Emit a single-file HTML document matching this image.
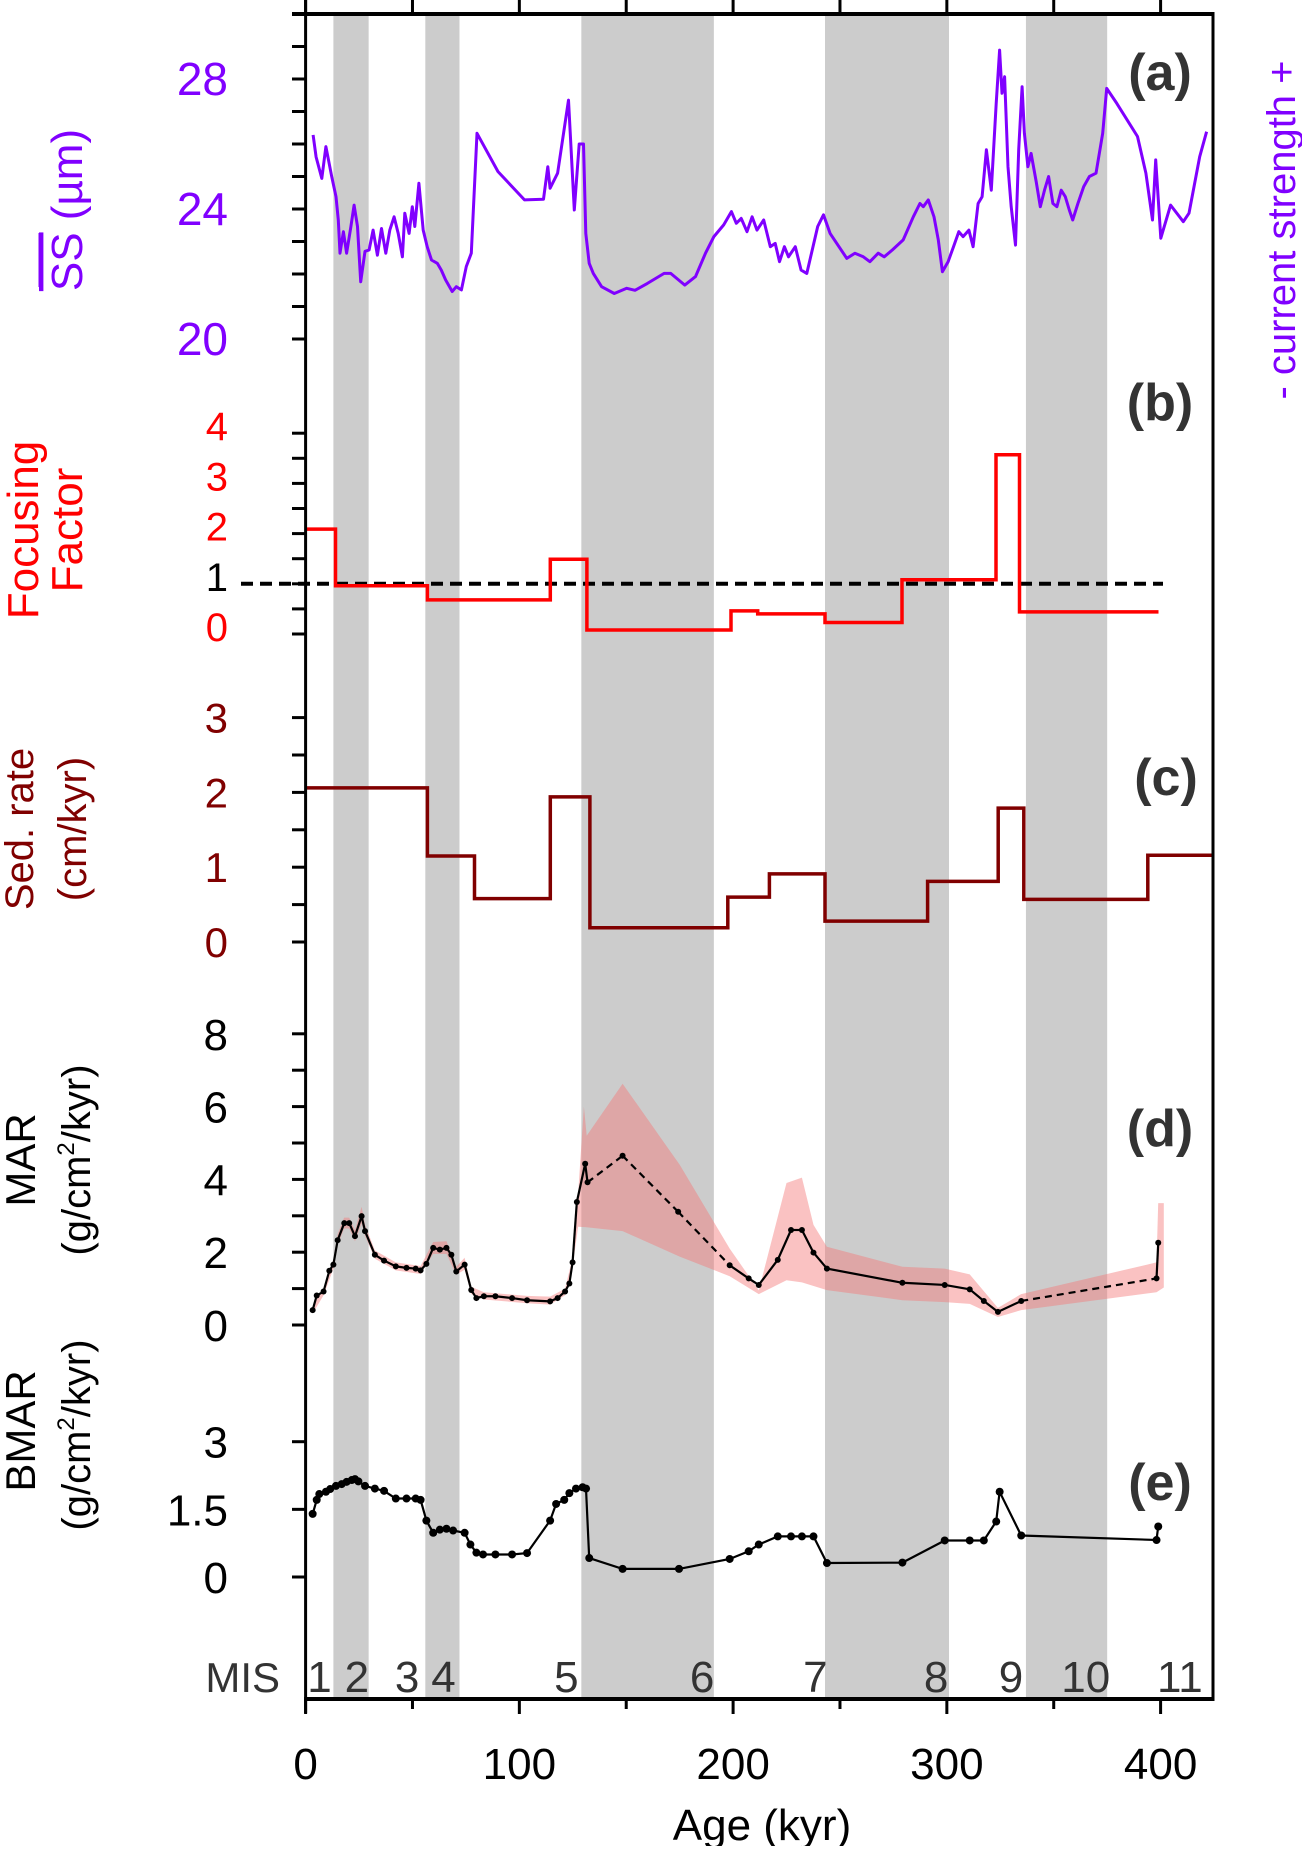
<!DOCTYPE html>
<html><head><meta charset="utf-8"><style>
html,body{margin:0;padding:0;background:#fff;}
svg text{font-family:"Liberation Sans",Arial,sans-serif;}
</style></head><body>
<svg id="chart" width="1302" height="1846" viewBox="0 0 1302 1846" xmlns="http://www.w3.org/2000/svg">
<g id="bands"></g>
<g id="plots"></g>
<g id="axes"></g>
<g id="labels">
  <text transform="translate(82,210) rotate(-90)" text-anchor="middle" font-size="44" fill="#8000ff"><tspan text-decoration="overline">SS</tspan> (µm)</text>
  <line x1="40" y1="233" x2="40" y2="287" stroke="#8000ff" stroke-width="3"/>
  <text transform="translate(1295,230) rotate(-90)" text-anchor="middle" font-size="40" fill="#8000ff">- current strength +</text>
  <text transform="translate(38,530) rotate(-90)" text-anchor="middle" font-size="44" fill="#ff0000">Focusing</text>
  <text transform="translate(82,530) rotate(-90)" text-anchor="middle" font-size="44" fill="#ff0000">Factor</text>
  <text transform="translate(33,829) rotate(-90)" text-anchor="middle" font-size="40" fill="#800000">Sed. rate</text>
  <text transform="translate(86,829) rotate(-90)" text-anchor="middle" font-size="40" fill="#800000">(cm/kyr)</text>
  <text transform="translate(35,1160) rotate(-90)" text-anchor="middle" font-size="42" fill="#000">MAR</text>
  <text transform="translate(90,1160) rotate(-90)" text-anchor="middle" font-size="40" fill="#000">(g/cm<tspan font-size="24" dy="-16">2</tspan><tspan dy="16">/kyr)</tspan></text>
  <text transform="translate(35,1431) rotate(-90)" text-anchor="middle" font-size="42" fill="#000">BMAR</text>
  <text transform="translate(90,1435) rotate(-90)" text-anchor="middle" font-size="40" fill="#000">(g/cm<tspan font-size="24" dy="-16">2</tspan><tspan dy="16">/kyr)</tspan></text>
  <text x="1160" y="90" text-anchor="middle" font-size="52" font-weight="bold" fill="#333">(a)</text>
  <text x="1160" y="420" text-anchor="middle" font-size="52" font-weight="bold" fill="#333">(b)</text>
  <text x="1166" y="795" text-anchor="middle" font-size="52" font-weight="bold" fill="#333">(c)</text>
  <text x="1160" y="1146" text-anchor="middle" font-size="52" font-weight="bold" fill="#333">(d)</text>
  <text x="1160" y="1500" text-anchor="middle" font-size="52" font-weight="bold" fill="#333">(e)</text>
  <text x="280" y="1692" text-anchor="end" font-size="42" fill="#333">MIS</text>
  <text x="762" y="1840" text-anchor="middle" font-size="44" fill="#000">Age (kyr)</text>
</g>
</svg>
<script>
// ---- data ----
const bandStarts = [13, 56, 129, 243, 337];
const bandEnds = [29.5, 72, 191, 301, 375];
const misNames = ["1","2","3","4","5","6","7","8","9","10","11"];
const misAges = [6.5, 24, 47.5, 64.5, 122, 185.5, 238.5, 295, 330, 365, 409];
const xTicks = [0, 50, 100, 150, 200, 250, 300, 350, 400];
const xTickLabels = ["0", "100", "200", "300", "400"];

const ssAge = [3.5,4.9,7.6,9.5,12.2,14.2,15.3,16.1,17.7,19.2,21.2,22.7,24.3,25.8,27.8,29.7,31.6,33.6,35.5,37.5,39.4,41.4,43.3,45.3,46.4,48.4,49.9,51.1,53.0,55.0,56.9,58.9,61.6,63.5,65.5,68.6,70.5,72.9,75.2,77.5,80.2,90.0,102.4,111.3,113.3,114.4,117.9,123.0,125.7,128.0,130.0,131.1,132.7,134.6,138.5,144.4,150.2,154.1,159.9,167.7,170.8,177.4,182.4,187.1,191.0,195.6,199.2,201.5,203.8,206.5,208.9,211.2,214.3,217.4,219.7,221.7,224.0,225.9,229.1,231.8,234.5,239.6,242.3,245.4,253.2,257.0,260.9,264.0,267.9,270.7,274.5,279.6,284.3,287.4,289.0,291.3,294.0,296.0,297.9,300.6,303.1,305.6,307.6,310.3,312.3,314.6,316.5,318.5,320.8,323.1,324.7,325.8,327.0,328.6,330.1,332.1,333.6,335.2,336.3,337.9,339.4,341.8,343.7,345.7,347.6,349.6,351.5,353.5,355.4,357.3,358.9,361.3,364.0,366.7,369.8,372.9,374.8,379.5,389.2,393.1,396.2,397.7,400.1,404.7,410.6,413.3,418.3,421.5];
const ssVal = [26.28,25.6,24.94,25.92,25.0,24.38,23.66,22.64,23.3,22.64,23.46,24.12,23.46,21.76,22.7,22.74,23.35,22.58,23.4,22.64,23.35,23.76,23.25,22.53,23.87,23.25,24.07,23.46,24.79,23.35,22.84,22.43,22.33,22.12,21.82,21.46,21.61,21.51,22.23,22.64,26.33,25.15,24.28,24.30,25.3,24.64,25.1,27.35,23.97,26.0,26.0,23.25,22.33,22.02,21.61,21.40,21.56,21.5,21.71,22.02,22.02,21.66,21.92,22.64,23.15,23.51,23.92,23.56,23.71,23.3,23.76,23.35,23.66,22.84,22.94,22.38,22.84,22.53,22.84,22.12,22.02,23.46,23.82,23.25,22.48,22.64,22.53,22.38,22.64,22.53,22.74,23.05,23.76,24.17,24.07,24.28,23.76,23.05,22.07,22.38,22.84,23.30,23.15,23.35,22.84,24.17,24.38,25.82,24.58,27.25,28.89,27.56,28.07,25.3,24.07,22.89,25.82,27.76,26.33,25.3,25.71,24.84,24.07,24.58,25.0,24.17,24.07,24.58,24.38,23.97,23.66,24.17,24.69,25.0,25.10,26.33,27.71,27.25,26.23,25.10,23.66,25.51,23.1,24.12,23.61,23.87,25.61,26.38];
const ssTicks = [20,21,22,23,24,25,26,27,28,29];
const ssTickLabels = [20,24,28];

const ffEdges = [0,14,57,114.5,131.6,199,211.5,243,279,323,334,399];
const ffVal = [2.09,0.96,0.68,1.49,0.08,0.46,0.40,0.23,1.08,3.57,0.44];
const ffTicks = [0,0.5,1,1.5,2,2.5,3,3.5,4];
const ffTickLabels = [0,1,2,3,4];

const sedEdges = [0,57,79,114.5,133,197.5,217,243,291,324,336,394,424];
const sedVal = [2.06,1.15,0.58,1.94,0.19,0.6,0.91,0.28,0.81,1.79,0.57,1.16];
const sedTicks = [0,0.5,1,1.5,2,2.5,3];
const sedTickLabels = [0,1,2,3];

const marAge = [3.3,5.2,8.4,11.1,13.0,15.0,18.1,20.4,23.1,26.2,27.8,32.4,36.7,42.2,47.2,51.5,53.8,56.5,59.7,62.8,65.9,68.2,70.5,74.4,77.5,79.9,83.4,88.8,96.6,103.6,114.4,117.9,121.4,123.4,124.9,126.9,130.8,131.9,148.3,174.3,198.4,207.3,212.0,220.9,227.1,232.2,237.6,243.9,279.2,299.0,310.7,317.3,323.9,334.8,398.1,398.9];
const marVal = [0.41,0.81,0.92,1.49,1.66,2.33,2.80,2.80,2.44,2.99,2.58,1.93,1.77,1.61,1.57,1.55,1.50,1.68,2.12,2.07,2.12,1.93,1.47,1.66,0.96,0.74,0.79,0.79,0.74,0.68,0.65,0.74,0.92,1.14,1.72,3.38,4.43,3.92,4.65,3.11,1.64,1.28,1.10,1.79,2.61,2.61,1.99,1.55,1.16,1.10,0.98,0.66,0.36,0.66,1.28,2.26];
// indices of segments drawn dashed (segment i connects point i to i+1)
const marDashedSeg = [37,38,39,53];
const marHiAge = [3.3,8.4,13,15,18,20.4,23.1,26.2,27.8,32.4,42.2,53.8,59.7,65.9,70.5,74.4,77.5,83.4,103.6,114.4,121.4,124.9,127.5,130.2,131.5,148.3,175,198.4,212,225,232.2,237.6,243.9,279.2,299,310.7,323.9,334.8,398.1,398.9,401.5];
const marHi = [0.52,1.02,1.8,2.5,2.95,2.95,2.6,3.25,2.75,2.05,1.72,1.62,2.28,2.3,1.6,1.85,1.05,0.9,0.8,0.78,1.0,1.85,3.6,6.0,5.2,6.63,4.4,2.1,0.95,3.9,4.05,2.75,2.15,1.6,1.55,1.39,0.47,0.85,1.72,3.35,3.35];
const marLoAge = [3.3,8.4,13,15,18,20.4,23.1,26.2,27.8,32.4,42.2,53.8,59.7,65.9,70.5,74.4,77.5,83.4,103.6,114.4,121.4,124.9,127.5,130.8,148.3,175,198.4,212,225,232.2,243.9,279.2,299,310.7,323.9,334.8,398.1,401.5];
const marLo = [0.32,0.82,1.55,2.2,2.65,2.65,2.3,2.8,2.45,1.82,1.5,1.4,1.95,1.95,1.38,1.52,0.85,0.7,0.6,0.56,0.82,1.6,2.7,2.69,2.58,1.88,1.34,0.85,1.23,1.17,0.96,0.68,0.63,0.58,0.22,0.41,0.9,1.03];
const marTicks = [0,1,2,3,4,5,6,7,8];
const marTickLabels = [0,2,4,6,8];

const bmarAge = [3.3,5.2,6.4,9.5,11.5,14.2,16.9,19.2,21.6,23.1,24.7,27.8,32.4,36.7,42.2,47.2,51.5,53.8,56.5,59.7,62.8,65.9,69.0,74.4,77.1,79.9,83.0,88.8,96.6,103.6,114.4,117.2,121.0,123.4,126.5,129.6,131.2,132.7,148.3,174.7,198.4,207.3,212.0,220.9,227.1,232.2,237.6,243.9,279.2,299.0,310.7,317.3,323.1,324.7,334.8,398.1,398.9];
const bmarVal = [1.40,1.71,1.84,1.89,1.95,2.02,2.06,2.11,2.15,2.17,2.12,2.02,1.96,1.91,1.74,1.74,1.74,1.71,1.25,0.98,1.05,1.07,1.03,0.98,0.72,0.54,0.50,0.50,0.50,0.53,1.25,1.62,1.71,1.86,1.96,1.99,1.96,0.42,0.18,0.18,0.40,0.57,0.72,0.90,0.90,0.90,0.90,0.31,0.32,0.81,0.81,0.81,1.23,1.89,0.92,0.82,1.12];
const bmarTicks = [0,1.5,3];
const bmarTickLabels = ["0","1.5","3"];

// ---- axis functions ----
const X0 = 305.6, KPX = 2.1375, TOP = 14, BOT = 1699, RIGHT = 1213;
const xs = a => X0 + a * KPX;
const ySS = v => 209 - (v - 24) * 32.5;
const yFF = v => 634 - v * 50.2;
const ySed = v => 942 - v * 74.8;
const yMAR = v => 1325 - v * 36.4;
const yBMAR = v => 1577 - v * 45.1;

const NS = "http://www.w3.org/2000/svg";
function mk(tag, parent, attrs) {
  const e = document.createElementNS(NS, tag);
  for (const k in attrs) e.setAttribute(k, attrs[k]);
  parent.appendChild(e);
  return e;
}
const gB = document.getElementById('bands');
const gP = document.getElementById('plots');
const gA = document.getElementById('axes');
const gL = document.getElementById('labels');

// bands
bandStarts.forEach((s, i) => {
  const r = mk('rect', gB, {x: xs(s), y: TOP, width: xs(bandEnds[i]) - xs(s), height: BOT - TOP, fill: '#cccccc'});
  
  
});

// helpers
function poly(ages, vals, yf) { return ages.map((a, i) => xs(a).toFixed(1) + ',' + yf(vals[i]).toFixed(1)).join(' '); }
function steps(edges, vals, yf) {
  let d = '';
  vals.forEach((v, i) => {
    d += (i === 0 ? 'M' : 'L') + xs(edges[i]).toFixed(1) + ',' + yf(v).toFixed(1) + ' L' + xs(edges[i + 1]).toFixed(1) + ',' + yf(v).toFixed(1) + ' ';
  });
  return d;
}

// SS line
const ssLine = mk('polyline', gP, {points: poly(ssAge, ssVal, ySS), fill: 'none', stroke: '#8000ff', 'stroke-width': 3, 'stroke-linejoin': 'round'});



// FF dashed reference line at 1
const ref = mk('line', gP, {x1: 241, x2: 1163, y1: yFF(1), y2: yFF(1), stroke: '#000', 'stroke-width': 4, 'stroke-dasharray': '12,7'});


const ffPath = mk('path', gP, {d: steps(ffEdges, ffVal, yFF), fill: 'none', stroke: '#ff0000', 'stroke-width': 3.5});



const sedPath = mk('path', gP, {d: steps(sedEdges, sedVal, ySed), fill: 'none', stroke: '#800000', 'stroke-width': 3.5});



// MAR band
let bandPts = marHiAge.map((a, i) => xs(a).toFixed(1) + ',' + yMAR(marHi[i]).toFixed(1));
for (let i = marLoAge.length - 1; i >= 0; i--) bandPts.push(xs(marLoAge[i]).toFixed(1) + ',' + yMAR(marLo[i]).toFixed(1));
const mb = mk('polygon', gP, {points: bandPts.join(' '), fill: 'rgba(245,120,120,0.45)', stroke: 'none'});



// MAR line segments
for (let i = 0; i < marAge.length - 1; i++) {
  const dashed = marDashedSeg.indexOf(i) >= 0;
  const s = mk('line', gP, {x1: xs(marAge[i]), y1: yMAR(marVal[i]), x2: xs(marAge[i + 1]), y2: yMAR(marVal[i + 1]), stroke: '#000', 'stroke-width': 2.2});
  if (dashed) s.setAttribute('stroke-dasharray', '7,5');
  
  
}
marAge.forEach((a, i) => {
  const c = mk('circle', gP, {cx: xs(a), cy: yMAR(marVal[i]), r: 3, fill: '#000'});
  
  
});

// BMAR
const bl = mk('polyline', gP, {points: poly(bmarAge, bmarVal, yBMAR), fill: 'none', stroke: '#000', 'stroke-width': 2.2});


bmarAge.forEach((a, i) => {
  const c = mk('circle', gP, {cx: xs(a), cy: yBMAR(bmarVal[i]), r: 4, fill: '#000'});
  
  
});

// frame
const fl = mk('line', gA, {x1: X0, y1: 0, x2: X0, y2: 1713, stroke: '#000', 'stroke-width': 3});


const fr = mk('line', gA, {x1: RIGHT, y1: TOP, x2: RIGHT, y2: BOT, stroke: '#000', 'stroke-width': 3});


const ft = mk('line', gA, {x1: 292, y1: TOP, x2: RIGHT + 1.5, y2: TOP, stroke: '#000', 'stroke-width': 4});


const fb = mk('line', gA, {x1: X0 - 1.5, y1: BOT, x2: RIGHT + 1.5, y2: BOT, stroke: '#000', 'stroke-width': 4});



// x ticks
xTicks.forEach(t => {
  const tb = mk('line', gA, {x1: xs(t), x2: xs(t), y1: BOT, y2: t % 100 === 0 ? 1714 : 1709, stroke: '#000', 'stroke-width': 3});
  
  
  const tt = mk('line', gA, {x1: xs(t), x2: xs(t), y1: 0, y2: TOP, stroke: '#000', 'stroke-width': 3});
  
  
});
xTickLabels.forEach(l => {
  const tx = mk('text', gL, {x: xs(+l), y: 1779, 'text-anchor': 'middle', 'font-size': 44, fill: '#000'});
  tx.textContent = l;
  
  
});

// y ticks
function yAxis(ticks, labels, yf, color, fs, dy, nm) {
  ticks.forEach(t => {
    const l = mk('line', gA, {x1: 292, x2: X0, y1: yf(t), y2: yf(t), stroke: '#000', 'stroke-width': 3});
    
    
  });
  labels.forEach(v => {
    const tx = mk('text', gL, {x: 228, y: yf(+v) + dy, 'text-anchor': 'end', 'font-size': fs, fill: (nm === 'ff' && +v === 1) ? '#000' : color});
    tx.textContent = String(v);
    
    
  });
}
yAxis(ssTicks, ssTickLabels, ySS, '#8000ff', 46, 16, 'ss');
yAxis(ffTicks, ffTickLabels, yFF, '#ff0000', 40, 7, 'ff');
yAxis(sedTicks, sedTickLabels, ySed, '#800000', 42, 15, 'sed');
yAxis(marTicks, marTickLabels, yMAR, '#000', 44, 16, 'mar');
yAxis(bmarTicks, bmarTickLabels, yBMAR, '#000', 44, 16, 'bmar');

// MIS numbers
misNames.forEach((n, i) => {
  const tx = mk('text', gL, {x: xs(misAges[i]), y: 1692, 'text-anchor': 'middle', 'font-size': 44, fill: '#333'});
  tx.textContent = n;
  
  
});
</script>
</body></html>
